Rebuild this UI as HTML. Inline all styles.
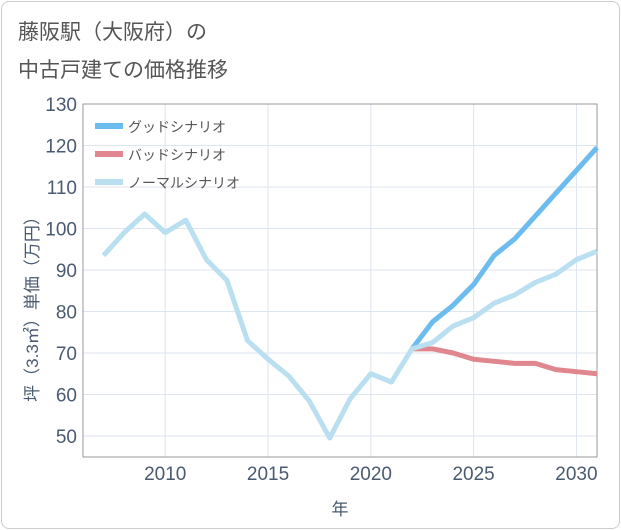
<!DOCTYPE html>
<html><head><meta charset="utf-8"><style>
body{margin:0;background:#fff;}
#c{position:relative;width:621px;height:530px;font-family:"Liberation Sans","Noto Sans CJK JP",sans-serif;}
.frame{position:absolute;left:1px;top:1px;width:617px;height:526px;border:1px solid #ccc;border-radius:8px;}
.t{position:absolute;left:18px;font-size:21px;color:#555;}
</style></head><body>
<div id="c">
<div class="frame"></div>
<div class="t" style="top:16px">藤阪駅（大阪府）の</div>
<div class="t" style="top:54px">中古戸建ての価格推移</div>
<svg id="s" width="621" height="530" style="position:absolute;left:0;top:0"></svg>
</div>
<script>
const years=[2007,2008,2009,2010,2011,2012,2013,2014,2015,2016,2017,2018,2019,2020,2021,2022,2023,2024,2025,2026,2027,2028,2029,2030,2031];
const normal=[93.5,99,103.5,99,102,92.5,87.5,73,68.5,64.5,58.5,49.5,59,65,63,71,72.5,76.5,78.5,82,84,87,89,92.5,94.5];
const goodYears=[2022,2023,2024,2025,2026,2027,2028,2029,2030,2031];
const good=[71,77.5,81.5,86.5,93.5,97.5,103,108.5,114,119.5];
const bad=[71,71,70,68.5,68,67.5,67.5,66,65.5,65];
const yTicks=[50,60,70,80,90,100,110,120,130];
const xTicks=[2010,2015,2020,2025,2030];
const L=83,R=597,T=104,B=457;
const x=v=>L+(v-2006)*(R-L)/25;
const y=v=>T+(130-v)*(437-105)/80;
const s=document.getElementById('s');const NS='http://www.w3.org/2000/svg';
function mk(tag,a,name){const e=document.createElementNS(NS,tag);for(const k in a)e.setAttribute(k,a[k]);


s.appendChild(e);return e;}
yTicks.forEach(v=>{mk('line',{x1:L,x2:R,y1:y(v),y2:y(v),stroke:'#dde5ee','stroke-width':1},'y-gridline');
const t=mk('text',{x:L-6,y:y(v)+7,'text-anchor':'end','font-size':19,fill:'#4a5a70'},'y-tick-label');t.textContent=v;});
xTicks.forEach(v=>{mk('line',{x1:x(v),x2:x(v),y1:T,y2:B,stroke:'#dde5ee','stroke-width':1},'x-gridline');
const t=mk('text',{x:x(v),y:B+23,'text-anchor':'middle','font-size':19,fill:'#4a5a70'},'x-tick-label');t.textContent=v;});
mk('rect',{x:L,y:T,width:R-L,height:B-T,fill:'none',stroke:'#999','stroke-width':1},'plot-border');
function line(xs,ys,c,name){mk('polyline',{points:xs.map((v,i)=>x(v)+','+y(ys[i])).join(' '),fill:'none',stroke:c,'stroke-width':5,'stroke-linejoin':'round'},name);}
line(goodYears,bad,'#e0868e','bad-scenario-line');
line(goodYears,good,'#6cbcf0','good-scenario-line');
line(years,normal,'#b9dff0','normal-scenario-line');
const leg=[['グッドシナリオ','#6cbcf0'],['バッドシナリオ','#e0868e'],['ノーマルシナリオ','#b9dff0']];
leg.forEach((l,i)=>{const yy=126+i*28;mk('line',{x1:95,x2:123,y1:yy,y2:yy,stroke:l[1],'stroke-width':6},'legend-swatch');
const t=mk('text',{x:128,y:yy+6,'font-size':14,fill:'#555'},'legend-label');t.textContent=l[0];});
const xt=mk('text',{x:340,y:515,'text-anchor':'middle','font-size':17,fill:'#4a5a70'},'x-axis-title');xt.textContent='年';
const yt=mk('text',{x:0,y:0,'text-anchor':'middle','font-size':17,fill:'#4a5a70',transform:'translate(38,305) rotate(-90)'},'y-axis-title');yt.textContent='坪（3.3㎡）単価（万円）';
</script>
</body></html>
